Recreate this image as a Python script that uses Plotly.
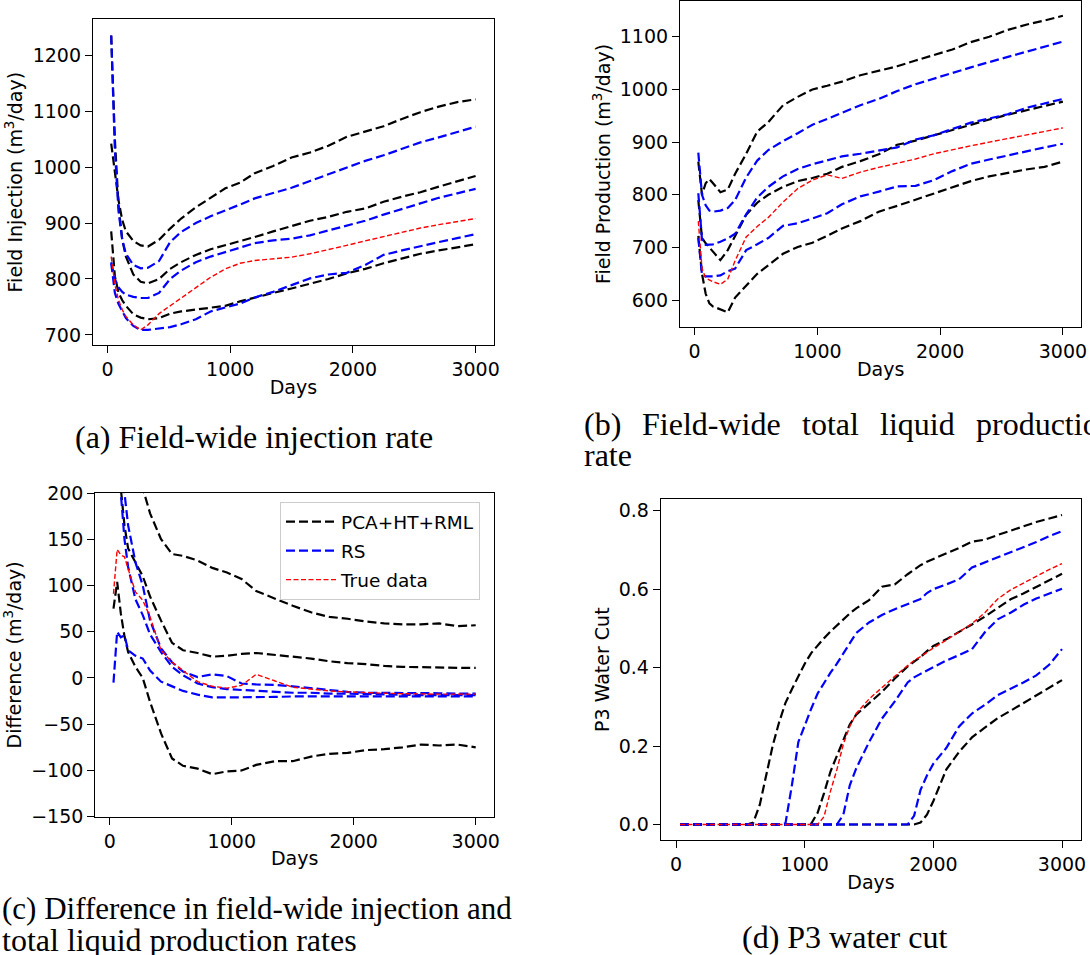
import plotly.graph_objects as go

# ---------------------------------------------------------------------------
# Data
# ---------------------------------------------------------------------------
# common report times (days) for panels (a)-(c)
days = [30, 60, 90, 120, 150, 210, 270, 330, 420, 510, 600, 720, 840, 960,
        1080, 1200, 1350, 1500, 1650, 1800, 1950, 2100, 2250, 2400, 2550,
        2700, 2850, 3000]

# (a) field injection rate, m3/day
inj_pca_hi = [1042, 990, 940, 905, 885, 868, 860, 858, 870, 890, 908, 928, 945, 962,
              972, 989, 1002, 1017, 1026, 1038, 1054, 1064, 1073, 1086, 1098, 1108, 1116, 1121]
inj_pca_mid = [1235, 1050, 930, 870, 840, 808, 795, 792, 800, 818, 830, 843, 853, 860,
               867, 875, 885, 895, 904, 911, 920, 926, 938, 947, 955, 965, 975, 984]
inj_pca_lo = [885, 805, 775, 762, 752, 737, 731, 728, 730, 738, 742, 745, 748, 752,
              760, 767, 775, 783, 791, 800, 810, 818, 828, 836, 845, 851, 857, 862]
inj_rs_hi = [1235, 1030, 920, 870, 845, 825, 819, 820, 832, 866, 884, 900, 912, 922,
             933, 944, 953, 963, 975, 987, 1000, 1011, 1021, 1033, 1044, 1053, 1062, 1072]
inj_rs_mid = [830, 800, 785, 777, 772, 768, 766, 766, 775, 800, 815, 830, 840, 848,
              857, 864, 869, 872, 878, 887, 895, 904, 915, 925, 934, 945, 953, 961]
inj_rs_lo = [828, 775, 755, 742, 730, 716, 709, 709, 711, 714, 719, 728, 742, 749,
             756, 767, 777, 789, 801, 808, 811, 825, 843, 851, 859, 866, 873, 880]
inj_true = [840, 790, 762, 745, 733, 718, 709, 718, 738, 752, 767, 785, 803, 818,
            828, 833, 836, 839, 845, 852, 860, 868, 876, 884, 891, 897, 903, 908]

# (b) field total liquid production rate, m3/day
prod_pca_hi = [863, 800, 822, 830, 822, 805, 810, 840, 878, 920, 938, 970, 986, 1000,
               1007, 1015, 1027, 1035, 1044, 1055, 1066, 1076, 1090, 1100, 1113, 1123, 1131, 1140]
prod_pca_mid = [790, 718, 708, 700, 692, 676, 695, 722, 762, 785, 800, 815, 826, 832,
                840, 853, 864, 877, 895, 903, 913, 924, 934, 943, 952, 960, 968, 977]
prod_pca_lo = [722, 650, 612, 594, 588, 582, 577, 605, 628, 650, 666, 688, 701, 709,
               722, 736, 750, 768, 779, 791, 802, 814, 826, 835, 842, 848, 853, 863]
prod_rs_hi = [880, 800, 780, 770, 768, 770, 775, 790, 833, 865, 885, 902, 917, 933,
              944, 955, 970, 982, 997, 1010, 1021, 1032, 1042, 1052, 1062, 1072, 1082, 1091]
prod_rs_mid = [803, 715, 705, 705, 706, 711, 717, 726, 763, 795, 815, 835, 849, 858,
               866, 873, 878, 884, 890, 905, 913, 925, 937, 945, 953, 965, 973, 982]
prod_rs_lo = [718, 648, 645, 645, 645, 647, 655, 660, 695, 706, 718, 741, 746, 755,
              765, 782, 797, 806, 816, 817, 828, 845, 859, 867, 875, 883, 890, 897]
prod_true = [750, 660, 642, 638, 635, 630, 640, 675, 720, 740, 757, 786, 812, 828,
             838, 831, 843, 852, 860, 868, 878, 886, 893, 900, 907, 914, 920, 927]

# (c) injection minus production, m3/day
diff_pca_hi = [460, 400, 350, 310, 280, 235, 205, 178, 150, 134, 132, 127, 119, 114,
               107, 94, 86, 78, 71, 66, 64, 61, 59, 58, 58, 59, 56, 57]
diff_pca_mid = [300, 260, 205, 165, 140, 125, 110, 88, 62, 38, 30, 27, 23, 24,
                26, 27, 25, 23, 21, 18, 16, 15, 13, 12, 11.5, 11, 11, 11]
diff_pca_lo = [75, 104, 70, 45, 28, 12, 0, -26, -60, -87, -95, -98, -104, -101,
               -100, -94, -90, -90, -85, -82, -81, -78, -77, -75, -72, -73, -72, -75]
diff_rs_hi = [420, 330, 250, 200, 165, 125, 100, 62, 32, 17, 7, 1, 4, 2,
              -6, -7, -7.5, -9, -11, -13, -15, -16, -16, -16.5, -16.5, -16.5, -17, -17]
diff_rs_mid = [350, 260, 200, 150, 120, 85, 68, 47, 28, 12, 3, -6, -10, -12,
               -13, -14, -15, -16, -16, -17, -17, -17.5, -18, -18, -18.5, -18.5, -18.5, -18.5]
diff_rs_lo = [-5, 50, 44, 46, 30, 24, 21, 8, -4, -9, -14, -18, -21, -21,
              -21, -21, -20.5, -20, -20, -20, -20, -20, -20, -20, -20, -20, -20, -20]
diff_true = [91, 139, 133, 131, 118, 93, 84, 66, 30, 17, 8, -4, -9, -11,
             -8, 4, -3, -10, -12, -14, -15, -16, -16.5, -17, -17.5, -17.5, -17.5, -17.5]

# (d) producer P3 water cut
wc_days = [30, 150, 300, 450, 550, 600, 650, 700, 750, 800, 850, 900, 950, 1000,
           1050, 1100, 1150, 1200, 1250, 1300, 1350, 1400, 1500, 1600, 1700, 1800,
           1850, 1900, 1950, 2000, 2100, 2200, 2300, 2400, 2500, 2600, 2700, 2800,
           2900, 3000]
wc_pca_hi = [0, 0, 0, 0, 0, 0.005, 0.05, 0.125, 0.2, 0.26, 0.31, 0.345, 0.378, 0.41,
             0.437, 0.457, 0.475, 0.492, 0.508, 0.523, 0.538, 0.551, 0.572, 0.606, 0.612, 0.638,
             0.65, 0.661, 0.67, 0.677, 0.689, 0.705, 0.721, 0.726, 0.738, 0.75, 0.76, 0.771,
             0.78, 0.789]
wc_pca_mid = [0, 0, 0, 0, 0, 0, 0, 0, 0, 0, 0, 0, 0, 0,
              0.002, 0.03, 0.08, 0.135, 0.175, 0.213, 0.255, 0.28, 0.31, 0.338, 0.372, 0.403,
              0.415, 0.427, 0.442, 0.455, 0.472, 0.49, 0.51, 0.53, 0.553, 0.574, 0.589, 0.605,
              0.622, 0.639]
wc_pca_lo = [0, 0, 0, 0, 0, 0, 0, 0, 0, 0, 0, 0, 0, 0,
             0, 0, 0, 0, 0, 0, 0, 0, 0, 0, 0, 0,
             0, 0.005, 0.025, 0.06, 0.14, 0.185, 0.222, 0.247, 0.271, 0.29, 0.31, 0.328,
             0.35, 0.368]
wc_rs_hi = [0, 0, 0, 0, 0, 0, 0, 0, 0, 0, 0.003, 0.1, 0.21, 0.255,
            0.295, 0.334, 0.362, 0.387, 0.41, 0.435, 0.46, 0.488, 0.515, 0.534, 0.549, 0.562,
            0.568, 0.575, 0.59, 0.6, 0.612, 0.625, 0.655, 0.668, 0.68, 0.695, 0.707, 0.72,
            0.735, 0.748]
wc_rs_mid = [0, 0, 0, 0, 0, 0, 0, 0, 0, 0, 0, 0, 0, 0,
             0, 0, 0, 0, 0, 0.025, 0.1, 0.143, 0.21, 0.27, 0.314, 0.362,
             0.375, 0.384, 0.393, 0.4, 0.418, 0.432, 0.447, 0.49, 0.523, 0.54, 0.56, 0.576,
             0.588, 0.601]
wc_rs_lo = [0, 0, 0, 0, 0, 0, 0, 0, 0, 0, 0, 0, 0, 0,
            0, 0, 0, 0, 0, 0, 0, 0, 0, 0, 0, 0,
            0.022, 0.088, 0.125, 0.155, 0.195, 0.25, 0.283, 0.305, 0.33, 0.345, 0.362, 0.38,
            0.407, 0.447]
wc_true = [0, 0, 0, 0, 0, 0, 0, 0, 0, 0, 0, 0, 0, 0,
           0, 0, 0.02, 0.085, 0.14, 0.205, 0.25, 0.283, 0.32, 0.35, 0.378, 0.405,
           0.418, 0.428, 0.44, 0.45, 0.47, 0.49, 0.512, 0.54, 0.575, 0.598, 0.616, 0.633,
           0.65, 0.665]

method_names = ["PCA+HT+RML", "RS", "True data"]
method_colors = ["black", "blue", "red"]

day_ticks = [0, 1000, 2000, 3000]

# ---------------------------------------------------------------------------
# Figure
# ---------------------------------------------------------------------------
W, H = 1090, 955
SANS = "DejaVu Sans, sans-serif"
SERIF = "Liberation Serif, Times New Roman, serif"

ens_dash = "9px,4px"
true_dash = "5px,2.5px"

panels = [
    ("", days, [inj_pca_hi, inj_pca_mid, inj_pca_lo], [inj_rs_hi, inj_rs_mid, inj_rs_lo], inj_true),
    ("2", days, [prod_pca_hi, prod_pca_mid, prod_pca_lo], [prod_rs_hi, prod_rs_mid, prod_rs_lo], prod_true),
    ("3", days, [diff_pca_hi, diff_pca_mid, diff_pca_lo], [diff_rs_hi, diff_rs_mid, diff_rs_lo], diff_true),
    ("4", wc_days, [wc_pca_hi, wc_pca_mid, wc_pca_lo], [wc_rs_hi, wc_rs_mid, wc_rs_lo], wc_true),
]

fig = go.Figure()

for ax, x, pca, rs, true in panels:
    legend_here = ax == "3"
    for series_list, m in [(pca, 0), (rs, 1)]:
        for k, y in enumerate(series_list):
            fig.add_trace(go.Scatter(
                x=x, y=y, mode="lines",
                line=dict(color=method_colors[m], width=2.2, dash=ens_dash),
                name=method_names[m], legendgroup=method_names[m],
                showlegend=legend_here and k == 0,
                xaxis="x" + ax, yaxis="y" + ax, hoverinfo="skip",
            ))
    fig.add_trace(go.Scatter(
        x=x, y=true, mode="lines",
        line=dict(color=method_colors[2], width=1.4, dash=true_dash),
        name=method_names[2], legendgroup=method_names[2],
        showlegend=legend_here,
        xaxis="x" + ax, yaxis="y" + ax, hoverinfo="skip",
    ))


def dom_x(left, right):
    return [left / W, right / W]


def dom_y(top, bottom):
    return [1 - bottom / H, 1 - top / H]


axis_common = dict(
    showline=True, mirror=True, linecolor="black", linewidth=1,
    ticks="outside", ticklen=7, tickwidth=1, tickcolor="black",
    showgrid=False, zeroline=False, automargin=False,
    tickfont=dict(family=SANS, size=19, color="black"),
)


def xaxis_def(dom, anchor):
    return dict(axis_common, domain=dom, anchor=anchor, range=[-120, 3150],
                tickvals=day_ticks,
                title=dict(text="Days", font=dict(family=SANS, size=19, color="black"),
                           standoff=1))


def yaxis_def(dom, anchor, rng, title, tickvals, fmt=None):
    d = dict(axis_common, domain=dom, anchor=anchor, range=rng, tickvals=tickvals,
             title=dict(text=title, font=dict(family=SANS, size=19, color="black"),
                        standoff=4))
    if fmt:
        d["tickformat"] = fmt
    return d


fig.update_layout(
    width=W, height=H,
    margin=dict(l=0, r=0, t=0, b=0),
    paper_bgcolor="white", plot_bgcolor="white",
    xaxis=xaxis_def(dom_x(92.8, 494.0), "y"),
    yaxis=yaxis_def(dom_y(19.3, 345), "x", [682, 1264],
                    "Field Injection (m<sup>3</sup>/day)", [700, 800, 900, 1000, 1100, 1200]),
    xaxis2=xaxis_def(dom_x(679.9, 1081.3), "y2"),
    yaxis2=yaxis_def(dom_y(1, 327), "x2", [549, 1168],
                     "Field Production (m<sup>3</sup>/day)", [600, 700, 800, 900, 1000, 1100]),
    xaxis3=xaxis_def(dom_x(95.2, 494.0), "y3"),
    yaxis3=yaxis_def(dom_y(493, 816.7), "x3", [-150, 200],
                     "Difference (m<sup>3</sup>/day)", [-150, -100, -50, 0, 50, 100, 150, 200]),
    xaxis4=xaxis_def(dom_x(660.7, 1081.3), "y4"),
    yaxis4=yaxis_def(dom_y(499.3, 840), "x4", [-0.0395, 0.829],
                     "P3 Water Cut", [0, 0.2, 0.4, 0.6, 0.8], fmt=".1f"),
    legend=dict(
        x=280 / W, y=1 - 502 / H, xanchor="left", yanchor="top",
        bgcolor="rgba(255,255,255,0.8)", bordercolor="#cccccc", borderwidth=1,
        font=dict(family=SANS, size=18.5, color="black"),
        tracegroupgap=2, itemwidth=50,
    ),
    showlegend=True,
)

# sub-figure captions
cap_font = dict(family=SERIF, size=32, color="black")


def caption(text, x, y, anchor="center", size=32):
    fig.add_annotation(text=text, x=x / W, y=1 - y / H, xref="paper", yref="paper",
                       xanchor=anchor, yanchor="middle", showarrow=False,
                       font=dict(cap_font, size=size))


caption("(a) Field-wide injection rate", 254, 437)
# (b) is a justified two-line caption, so its first line is set word by word
for word, xpos in [("(b)", 582), ("Field-wide", 640), ("total", 800), ("liquid", 878),
                   ("production", 974)]:
    caption(word, xpos, 424, anchor="left")
caption("rate", 582, 455, anchor="left")
caption("(c) Difference in field-wide injection and", 0, 908, anchor="left", size=31)
caption("total liquid production rates", 0, 940, anchor="left")
caption("(d) P3 water cut", 844, 937)

fig.write_html("out.html")
